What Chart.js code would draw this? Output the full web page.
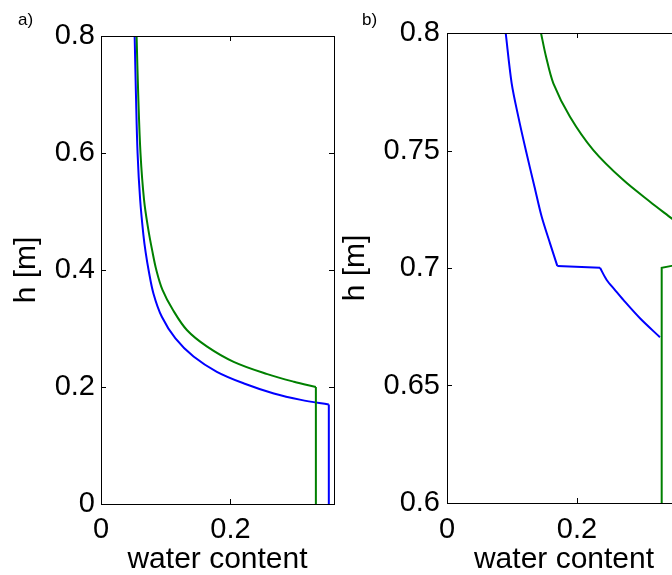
<!DOCTYPE html>
<html>
<head>
<meta charset="utf-8">
<title>Water content profiles</title>
<script src="https://cdn.jsdelivr.net/npm/chart.js@4/dist/chart.umd.min.js"></script>
<style>
  html, body { margin: 0; padding: 0; background: #fff; }
  #page { position: relative; width: 672px; height: 575px; overflow: hidden; background: #fff; }
  #panelA { position: absolute; left: 0; top: 0; }
  #panelB { position: absolute; left: 336px; top: 0; }
</style>
</head>
<body>
<div id="page">
  <canvas id="panelA" width="340" height="575"></canvas>
  <canvas id="panelB" width="360" height="575"></canvas>
</div>
<script>
// ---- a) full column, 0 – 0.8 m ----
// unsaturated part above the wetting front
const aBlueTheta = [0.052, 0.054, 0.0565, 0.0605, 0.0655, 0.069, 0.0735, 0.081, 0.094, 0.115, 0.143, 0.179, 0.221, 0.267, 0.309, 0.352];
const aBlueH     = [0.800, 0.700, 0.600, 0.520, 0.460, 0.430, 0.400, 0.360, 0.320, 0.283, 0.252, 0.226, 0.206, 0.189, 0.178, 0.170];
// saturated part below it
const aBlueSatTheta = [0.352, 0.352];
const aBlueSatH     = [0.170, 0.000];

const aGreenTheta = [0.055, 0.0575, 0.061, 0.0665, 0.073, 0.079, 0.0855, 0.095, 0.111, 0.133, 0.164, 0.205, 0.257, 0.298, 0.332];
const aGreenH     = [0.800, 0.700, 0.600, 0.520, 0.470, 0.434, 0.400, 0.366, 0.332, 0.297, 0.269, 0.243, 0.222, 0.209, 0.200];
const aGreenSatTheta = [0.332, 0.332];
const aGreenSatH     = [0.200, 0.000];

const aXTicks = [0, 0.2];
const aXTickLabels = ['0', '0.2'];
const aYTicks = [0, 0.2, 0.4, 0.6, 0.8];
const aYTickLabels = ['0', '0.2', '0.4', '0.6', '0.8'];

// ---- b) close-up of the top of the column, 0.6 – 0.8 m ----
// blue: curve down to the front, short step across it, then the curve below
const bBlueUpperTheta = [0.0903, 0.0995, 0.1097, 0.1212, 0.1346, 0.1457, 0.1585, 0.1697];
const bBlueUpperH     = [0.8000, 0.7786, 0.7644, 0.7502, 0.7346, 0.7218, 0.7105, 0.7009];
const bBlueStepTheta  = [0.1697, 0.2354];
const bBlueStepH      = [0.7009, 0.7001];
const bBlueLowerTheta = [0.2354, 0.2457, 0.2585, 0.2713, 0.2969, 0.3277];
const bBlueLowerH     = [0.7001, 0.6949, 0.6906, 0.6864, 0.6786, 0.6705];

const bGreenTheta = [0.1446, 0.1523, 0.1636, 0.1892, 0.2251, 0.2713, 0.3123, 0.3456, 0.3600];
const bGreenH     = [0.8000, 0.7900, 0.7786, 0.7644, 0.7502, 0.7374, 0.7282, 0.7211, 0.7180];
const bGreenSatTheta = [0.3303, 0.3303, 0.3456, 0.3600];
const bGreenSatH     = [0.6000, 0.7001, 0.7009, 0.7016];

const bXTicks = [0, 0.2];
const bXTickLabels = ['0', '0.2'];
const bYTicks = [0.6, 0.65, 0.7, 0.75, 0.8];
const bYTickLabels = ['0.6', '0.65', '0.7', '0.75', '0.8'];

const X_TITLE = 'water content';
const Y_TITLE = 'h [m]';

const BLUE = '#0000ff';
const GREEN = '#008000';

Chart.defaults.font.family = '"Liberation Sans", Arial, Helvetica, sans-serif';
Chart.defaults.color = '#000';

function points(xs, ys) {
  return xs.map((x, i) => ({ x: x, y: ys[i] }));
}

function line(xs, ys, color, tension) {
  return {
    data: points(xs, ys),
    borderColor: color,
    borderWidth: 2,
    pointRadius: 0,
    showLine: true,
    fill: false,
    tension: tension,
    order: color === GREEN ? 1 : 2
  };
}

// Box around the plot area with inward tick marks on all four sides
const frameTicks = {
  id: 'frameTicks',
  afterDatasetsDraw(chart) {
    const { ctx, chartArea: a } = chart;
    const xs = chart.scales.x, ys = chart.scales.y;
    const L = 5;
    ctx.save();
    ctx.strokeStyle = '#000';
    ctx.lineWidth = 1;
    ctx.beginPath();
    xs.ticks.forEach(t => {
      const px = Math.round(xs.getPixelForValue(t.value)) + 0.5;
      ctx.moveTo(px, a.bottom); ctx.lineTo(px, a.bottom - L);
      ctx.moveTo(px, a.top);    ctx.lineTo(px, a.top + L);
    });
    ys.ticks.forEach(t => {
      const py = Math.round(ys.getPixelForValue(t.value)) + 0.5;
      ctx.moveTo(a.left, py);  ctx.lineTo(a.left + L, py);
      ctx.moveTo(a.right, py); ctx.lineTo(a.right - L, py);
    });
    ctx.stroke();
    ctx.strokeRect(Math.round(a.left) + 0.5, Math.round(a.top) + 0.5,
                   Math.round(a.right - a.left), Math.round(a.bottom - a.top));
    ctx.restore();
  }
};

// Panel letter in the upper left corner
const panelLabel = {
  id: 'panelLabel',
  afterDraw(chart, args, opts) {
    const ctx = chart.ctx;
    ctx.save();
    ctx.font = '17px "Liberation Sans", Arial, sans-serif';
    ctx.fillStyle = '#000';
    ctx.textBaseline = 'alphabetic';
    ctx.textAlign = 'left';
    ctx.fillText(opts.text, opts.x, opts.y);
    ctx.restore();
  }
};

function makePanel(canvasId, cfg) {
  const tickFont = { size: 29 };
  return new Chart(document.getElementById(canvasId), {
    type: 'scatter',
    data: { datasets: cfg.datasets },
    options: {
      responsive: false,
      animation: false,
      events: [],
      layout: { padding: cfg.padding },
      plugins: {
        legend: { display: false },
        tooltip: { enabled: false },
        panelLabel: cfg.label
      },
      scales: {
        x: {
          type: 'linear',
          min: cfg.xMin, max: cfg.xMax,
          grid: { display: false, drawTicks: false },
          border: { display: false },
          afterBuildTicks: s => { s.ticks = cfg.xTicks.map(v => ({ value: v })); },
          afterFit: s => { s.height = cfg.xAxisHeight; },
          ticks: {
            font: tickFont,
            padding: cfg.xTickPad,
            maxRotation: 0,
            autoSkip: false,
            callback: v => cfg.xTickLabels[cfg.xTicks.indexOf(v)]
          },
          title: {
            display: true, text: X_TITLE,
            font: { size: 30, lineHeight: 1 },
            padding: { top: 0, bottom: 0 }
          }
        },
        y: {
          type: 'linear',
          min: cfg.yMin, max: cfg.yMax,
          grid: { display: false, drawTicks: false },
          border: { display: false },
          afterBuildTicks: s => { s.ticks = cfg.yTicks.map(v => ({ value: v })); },
          afterFit: s => { s.width = cfg.yAxisWidth; },
          ticks: {
            font: tickFont,
            padding: cfg.yTickPad,
            autoSkip: false,
            callback: v => cfg.yTickLabels[cfg.yTicks.indexOf(v)]
          },
          title: {
            display: true, text: Y_TITLE,
            font: { size: 30 },
            padding: { top: cfg.yTitlePad, bottom: 0 }
          }
        }
      }
    },
    plugins: [frameTicks, panelLabel]
  });
}

makePanel('panelA', {
  datasets: [
    line(aBlueTheta, aBlueH, BLUE, 0.35),
    line(aBlueSatTheta, aBlueSatH, BLUE, 0),
    line(aGreenTheta, aGreenH, GREEN, 0.35),
    line(aGreenSatTheta, aGreenSatH, GREEN, 0)
  ],
  xMin: 0, xMax: 0.36, yMin: 0, yMax: 0.8,
  xTicks: aXTicks, xTickLabels: aXTickLabels,
  yTicks: aYTicks, yTickLabels: aYTickLabels,
  padding: { left: 0, top: 36, right: 6, bottom: 0 },
  yAxisWidth: 101, xAxisHeight: 71,
  xTickPad: 9, yTickPad: 6, yTitlePad: 9,
  label: { text: 'a)', x: 18, y: 25 }
});

makePanel('panelB', {
  datasets: [
    line(bBlueUpperTheta, bBlueUpperH, BLUE, 0.3),
    line(bBlueStepTheta, bBlueStepH, BLUE, 0),
    line(bBlueLowerTheta, bBlueLowerH, BLUE, 0.3),
    line(bGreenTheta, bGreenH, GREEN, 0.3),
    line(bGreenSatTheta, bGreenSatH, GREEN, 0)
  ],
  xMin: 0, xMax: 0.36, yMin: 0.6, yMax: 0.8,
  xTicks: bXTicks, xTickLabels: bXTickLabels,
  yTicks: bYTicks, yTickLabels: bYTickLabels,
  padding: { left: 0, top: 33, right: 15, bottom: 0 },
  yAxisWidth: 111, xAxisHeight: 72,
  xTickPad: 10, yTickPad: 7, yTitlePad: 2,
  label: { text: 'b)', x: 26, y: 25 }
});
</script>
</body>
</html>
